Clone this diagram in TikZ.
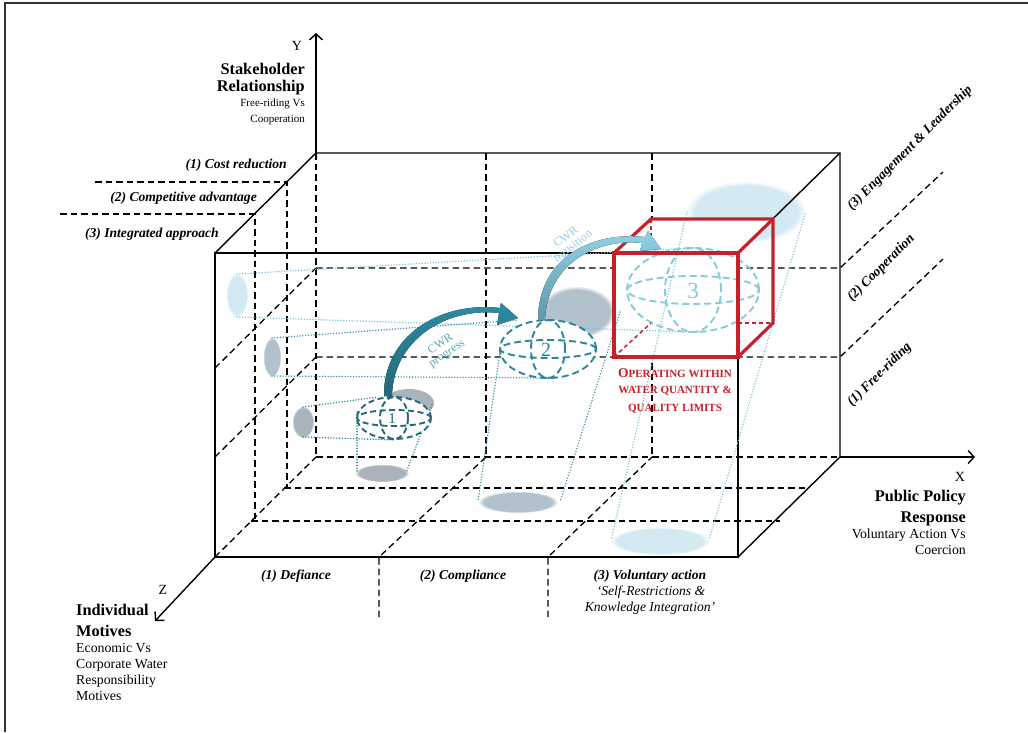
\documentclass[tikz,border=0pt]{standalone}
\usepackage{fontspec}
\setmainfont{Liberation Serif}
\usetikzlibrary{arrows.meta,fadings}
\definecolor{cubered}{HTML}{C8202A}
\definecolor{tealA}{HTML}{24697A}
\definecolor{tealB}{HTML}{2B869D}
\definecolor{tealC}{HTML}{86CADE}
\definecolor{dotA}{HTML}{2E7F93}
\definecolor{dotB}{HTML}{3A95AB}
\definecolor{dotC}{HTML}{7CC4DB}
\definecolor{shadA}{HTML}{A9B3BB}
\definecolor{shadB}{HTML}{B2C2CC}
\definecolor{shadC}{HTML}{D3EAF2}
\definecolor{arrTop}{HTML}{2D8CA4}
\definecolor{arrBot}{HTML}{22687A}
\definecolor{trTop}{HTML}{92D2E4}
\definecolor{trBot}{HTML}{5E97AA}
\definecolor{cwrA}{HTML}{5FA5B8}
\definecolor{cwrB}{HTML}{96D0E2}
\definecolor{framegray}{HTML}{333333}
\begin{document}
\begin{tikzpicture}[x=1pt,y=-1pt,
  solidedge/.style={line width=1.4pt,black},
  griddash/.style={line width=1.3pt,black,dash pattern=on 6.5pt off 4pt},
  axisarr/.style={line width=1.4pt,-{Straight Barb[length=6pt,width=13pt,line width=1.4pt]}},
  blob/.style={path fading=circle with fuzzy edge 15 percent},
  dots/.style={line width=1.6pt,line cap=round,dash pattern=on 0.01pt off 2.8pt},
  sphereline/.style={line width=1.9pt,dash pattern=on 7pt off 4pt},
  redcube/.style={line width=3.2pt,cubered,line join=miter},
  reddash/.style={line width=1.5pt,cubered,dash pattern=on 4pt off 3pt},
  lbl/.style={inner sep=0pt,font=\fontsize{13.6}{15}\selectfont\bfseries\itshape},
  ital/.style={inner sep=0pt,font=\fontsize{13.6}{15}\selectfont\itshape},
  headA/.style={inner sep=0pt,font=\fontsize{16.3}{18}\selectfont\bfseries},
  descA/.style={inner sep=0pt,font=\fontsize{13.8}{15}\selectfont},
  descY/.style={inner sep=0pt,font=\fontsize{11}{13}\selectfont},
  axlab/.style={inner sep=0pt,font=\fontsize{14}{14}\selectfont},
  redtxt/.style={inner sep=0pt,font=\fontsize{11}{12}\selectfont\bfseries,text=cubered},
  cwr/.style={font=\fontsize{12}{11.5}\selectfont,align=center,inner sep=0pt}
]
\useasboundingbox (0,0) rectangle (1028,732);
% frame
\draw[line width=1.5pt,framegray] (5,732) -- (5,3) -- (1028,3);

% corners
\coordinate (F1) at (215,253);
\coordinate (F2) at (738,253);
\coordinate (F3) at (738,557);
\coordinate (F4) at (215,557);
\coordinate (B1) at (316,153);
\coordinate (B2) at (840,153);
\coordinate (B3) at (840,457);
\coordinate (B4) at (316,457);
\coordinate (Ytip) at (316,33);
\coordinate (Xtip) at (975,457);
\coordinate (Ztip) at (155,621);
\coordinate (R1) at (614,253);
\coordinate (R2) at (738,253);
\coordinate (R3) at (738,357);
\coordinate (R4) at (614,357);
\coordinate (S1) at (651,219);
\coordinate (S2) at (773,219);
\coordinate (S3) at (773,323);
\coordinate (S4) at (651,323);

% shadows
\fill[shadC,blob] (746,212) ellipse [x radius=60pt,y radius=31pt];
\fill[shadC,blob] (237,295) ellipse [x radius=11pt,y radius=22pt];
\fill[shadC,blob] (660,541) ellipse [x radius=50pt,y radius=14pt];
\fill[shadB,blob] (577,312) ellipse [x radius=38pt,y radius=26pt];
\fill[shadB,blob] (272,357) ellipse [x radius=9pt,y radius=20pt];
\fill[shadB,blob] (518,502) ellipse [x radius=40pt,y radius=11pt];
\fill[shadA] (409,403) ellipse [x radius=25pt,y radius=14pt];
\fill[shadA,blob] (303,422) ellipse [x radius=11pt,y radius=16pt];
\fill[shadA,blob] (382,473) ellipse [x radius=27pt,y radius=9pt];

% grid
\draw[griddash] (B1) -- (B4);
\draw[griddash] (B4) -- (B3);
\draw[griddash] (F4) -- (B4);
\draw[griddash] (486,153) -- (486,457);
\draw[griddash] (652,153) -- (652,457);
\draw[griddash] (316,268) -- (840,268) -- (943,172);
\draw[griddash] (316,357) -- (840,357) -- (943,259);
\draw[griddash] (60,214) -- (255,214) -- (255,521);
\draw[griddash] (95,182) -- (287,182) -- (287,488);
\draw[griddash] (215,368) -- (316,268);
\draw[griddash] (215,457) -- (316,357);
\draw[griddash] (251,521) -- (780,521);
\draw[griddash] (284,488) -- (807,488);
\draw[griddash] (379,617) -- (379,557) -- (486,457);
\draw[griddash] (548,617) -- (548,557) -- (652,457);

% solid edges and axes
\draw[solidedge] (F1) rectangle (F3);
\draw[solidedge] (F1) -- (B1) -- (B2) -- (B3);
\draw[solidedge] (F2) -- (B2);
\draw[solidedge] (F3) -- (B3);
\draw[solidedge,axisarr] (B1) -- (Ytip);
\draw[solidedge,axisarr] (B3) -- (Xtip);
\draw[solidedge,axisarr] (F4) -- (Ztip);

% red cube faces (opaque)
\fill[white] (R4) -- (R1) -- (S1) -- (S2) -- (R2) -- (R3) -- cycle;

% projection lines
\draw[dots,dotC] (237,274) -- (690,248);
\draw[dots,dotC] (237,317) -- (693,332);
\draw[dots,dotC] (687,212) -- (611,540);
\draw[dots,dotC] (805,214) -- (709,540);
\draw[dots,dotB] (272,338) -- (518,320);
\draw[dots,dotB] (272,376) -- (548,378);
\draw[dots,dotB] (500,352) -- (478,501);
\draw[dots,dotB] (620,312) -- (560,502);
\draw[dots,dotA] (303,407) -- (378,397);
\draw[dots,dotA] (303,437) -- (395,440);
\draw[dots,dotA] (357,412) -- (357,473);
\draw[dots,dotA] (432,405) -- (406,473);

% spheres
\draw[sphereline,tealC] (693,290) ellipse [x radius=66pt,y radius=42pt];
\draw[sphereline,tealC] (693,290) ellipse [x radius=66pt,y radius=14pt];
\draw[sphereline,tealC] (693,290) ellipse [x radius=28pt,y radius=42pt];
\node[font=\fontsize{23}{23}\selectfont,text=tealC] (n3) at (693,291) {3};

\fill[white] (548,349) ellipse [x radius=48pt,y radius=29pt];
\draw[sphereline,tealB] (548,349) ellipse [x radius=48pt,y radius=29pt];
\draw[sphereline,tealB] (548,349) ellipse [x radius=48pt,y radius=9pt];
\draw[sphereline,tealB] (548,349) ellipse [x radius=17pt,y radius=29pt];
\node[font=\fontsize{20}{20}\selectfont,text=tealB] (n2) at (546,350) {2};

\fill[white] (394,418) ellipse [x radius=37pt,y radius=21pt];
\draw[sphereline,tealA,dash pattern=on 6pt off 3.5pt] (394,418) ellipse [x radius=37pt,y radius=21pt];
\draw[sphereline,tealA,dash pattern=on 6pt off 3.5pt] (394,418) ellipse [x radius=37pt,y radius=8pt];
\draw[sphereline,tealA,dash pattern=on 6pt off 3.5pt] (394,418) ellipse [x radius=14pt,y radius=21pt];
\node[font=\fontsize{15}{15}\selectfont,text=tealA] (n1) at (392,419) {1};

% red cube edges
\draw[reddash] (S1) -- (651,236);
\draw[reddash] (R4) -- (S4);
\draw[reddash] (738,323) -- (S3);
\draw[redcube] (R1) rectangle (R3);
\draw[redcube] (R1) -- (S1) -- (S2) -- (S3) -- (R3);
\draw[redcube] (R2) -- (S2);

% CWR arrows
\fill[top color=arrTop,bottom color=arrBot]
  (384,396) .. controls (383,336) and (440,301) .. (500,308)
  -- (501,303) -- (518,318) -- (497,325) -- (499,313)
  .. controls (446,307) and (393,340) .. (392,396) -- cycle;
\fill[top color=trTop,bottom color=trBot]
  (538,320) .. controls (538,259) and (590,231) .. (645,237)
  -- (648,231) -- (661,249) -- (640,251) -- (642,243)
  .. controls (595,238) and (547,265) .. (545,320) -- cycle;
\node[cwr,text=cwrA,rotate=34] (cwrp) at (444,349) {CWR\\progress};
\node[cwr,text=cwrB,rotate=38] (cwrt) at (569,241) {CWR\\transition};

% red label
\node[redtxt,anchor=base] (op1) at (675,377) {{\fontsize{13.5}{13}\selectfont O}PERATING WITHIN};
\node[redtxt,anchor=base] (op2) at (675,393) {WATER QUANTITY \&};
\node[redtxt,anchor=base] (op3) at (675,411) {QUALITY LIMITS};

% Y axis labels
\node[axlab] (ylab) at (297,46) {Y};
\node[headA,anchor=base east] (yh1) at (305,74) {Stakeholder};
\node[headA,anchor=base east] (yh2) at (305,91) {Relationship};
\node[descY,anchor=base east] (yd1) at (305,106) {Free-riding Vs};
\node[descY,anchor=base east] (yd2) at (305,122) {Cooperation};
\node[lbl,anchor=base east] (z1) at (287,168) {(1) Cost reduction};
\node[lbl,anchor=base east] (z2) at (257,201) {(2) Competitive advantage};
\node[lbl,anchor=base east] (z3) at (219,237) {(3) Integrated approach};

% X axis labels
\node[axlab] (xlab) at (960,477) {X};
\node[headA,anchor=base east] (xh1) at (966,501) {Public Policy};
\node[headA,anchor=base east] (xh2) at (966,522) {Response};
\node[descA,anchor=base east] (xd1) at (966,538) {Voluntary Action Vs};
\node[descA,anchor=base east] (xd2) at (966,554) {Coercion};
\node[lbl,anchor=base] (x1) at (296,579) {(1) Defiance};
\node[lbl,anchor=base] (x2) at (463,579) {(2) Compliance};
\node[lbl,anchor=base] (x3) at (650,579) {(3) Voluntary action};
\node[ital,anchor=base] (x3a) at (651,595) {‘Self-Restrictions \&};
\node[ital,anchor=base] (x3b) at (650,611) {Knowledge Integration’};

% Z axis labels
\node[axlab] (zlab) at (163,590) {Z};
\node[headA,anchor=base west] (zh1) at (76,615) {Individual};
\node[headA,anchor=base west] (zh2) at (76,636) {Motives};
\node[descA,anchor=base west] (zd1) at (76,652) {Economic Vs};
\node[descA,anchor=base west] (zd2) at (76,668) {Corporate Water};
\node[descA,anchor=base west] (zd3) at (76,684) {Responsibility};
\node[descA,anchor=base west] (zd4) at (76,700) {Motives};

% Y levels (rotated)
\node[lbl,anchor=base west,rotate=45] (y3) at (852,211) {(3) Engagement \& Leadership};
\node[lbl,anchor=base west,rotate=45] (y2) at (852,302) {(2) Cooperation};
\node[lbl,anchor=base west,rotate=45] (y1) at (852,407) {(1) Free-riding};
\end{tikzpicture}
\end{document}
